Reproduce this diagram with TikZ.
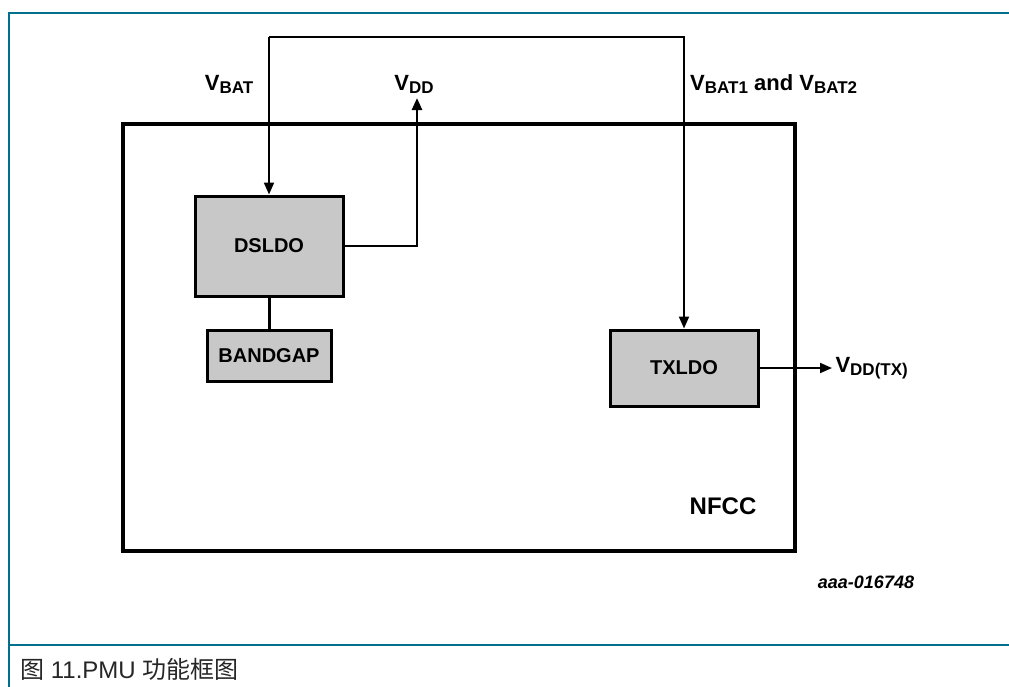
\documentclass[tikz,border=0pt]{standalone}
\usepackage{fontspec}
\usepackage{tikz}
\usetikzlibrary{arrows.meta}
\setmainfont{Liberation Sans}
\newfontfamily\cjk{Noto Sans CJK SC}
\definecolor{frameteal}{HTML}{00708C}
\definecolor{blockgray}{HTML}{C8C8C8}
\newcommand{\blocktext}{\fontsize{20}{24}\selectfont\bfseries}
\newcommand{\pintext}{\fontsize{22}{26}\selectfont\bfseries}
\newcommand{\pinsub}[1]{\raisebox{-3pt}{\fontsize{17}{17}\selectfont #1}}

\begin{document}
\begin{tikzpicture}[x=1pt,y=-1pt,font=\pintext,>={Triangle[length=12pt,width=10pt]},
  block/.style={draw=black,fill=blockgray,line width=3pt,font=\blocktext},
  wire/.style={line width=2pt}]
\useasboundingbox (0,0) rectangle (1009,686);
% page frame and caption line
\draw[frameteal,line width=2pt] (9,700) -- (9,13) -- (1020,13);
\draw[frameteal,line width=2pt] (9,645) -- (1020,645);
\node[draw=black,line width=4pt,minimum width=672pt,minimum height=427pt] (nfcc) at (459,337.5) {};
\node[font=\fontsize{24}{28}\selectfont\bfseries] (nfcclabel) at (723,506) {NFCC};
\node[block,minimum width=148pt,minimum height=100pt] (dsldo) at (269,246) {DSLDO};
\node[block,minimum width=124pt,minimum height=51pt] (bandgap) at (269,355.5) {BANDGAP};
\node[block,minimum width=148pt,minimum height=76pt] (txldo) at (684,368) {TXLDO};
\node (vbat) at (229,84) {V\pinsub{BAT}};
\node (vdd) at (414,84) {V\pinsub{DD}};
\node[anchor=west,inner sep=0pt] (vbat12) at (690,84) {V\pinsub{BAT1} and V\pinsub{BAT2}};
\node[anchor=west] (vddtx) at (832,368) {V\pinsub{DD(TX)}};
\coordinate (batl) at (269,37);
\coordinate (batr) at (684,37);
\coordinate (vddtip) at (417,98);
\draw[wire,->] (batl) -- (dsldo.north);
\draw[wire,->] (batl) -- (batr) -- (txldo.north);
\draw[line width=2.5pt,->] (dsldo.east) -| (vddtip);
\draw[line width=3pt] (dsldo.south) -- (bandgap.north);
\draw[wire,->] (txldo.east) -- (vddtx.west);
\node[font=\fontsize{18}{22}\selectfont\bfseries\itshape] (figid) at (866,582) {aaa-016748};
\node[anchor=west,inner sep=0pt,text=black!85,font=\fontsize{24}{28}\selectfont] (caption) at (20,669) {{\cjk 图} 11.PMU {\cjk 功能框图}};
\end{tikzpicture}
\end{document}
